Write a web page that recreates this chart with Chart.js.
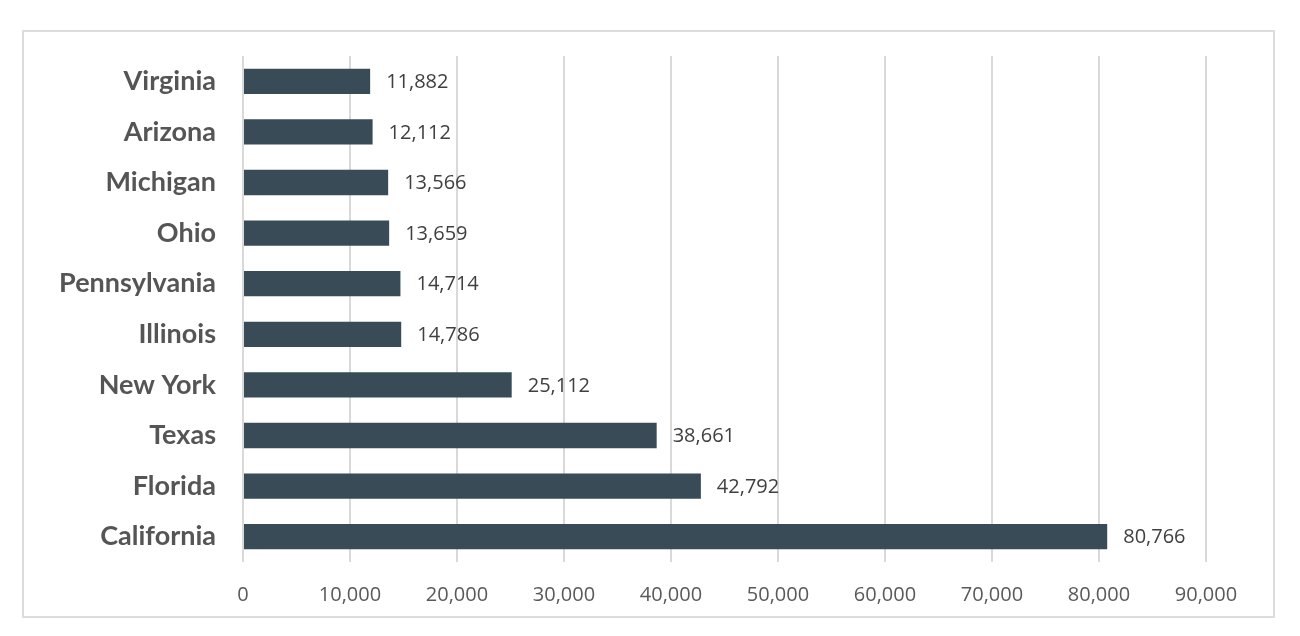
<!DOCTYPE html>
<html>
<head>
<meta charset="utf-8">
<script src="https://cdn.jsdelivr.net/npm/chart.js@4"></script>
<style>
  body { margin: 0; background: #fff; }
  #box {
    position: absolute; left: 22px; top: 30px;
    width: 1253px; height: 588px;
    border: 2px solid #dcdcdc; box-sizing: border-box;
  }
  #chart { position: absolute; left: 0; top: 0; }
</style>
</head>
<body>
<div id="box"><canvas id="chart" width="1249" height="584"></canvas></div>
<script>
const states = ["Virginia", "Arizona", "Michigan", "Ohio", "Pennsylvania", "Illinois", "New York", "Texas", "Florida", "California"];
const counts = [11882, 12112, 13566, 13659, 14714, 14786, 25112, 38661, 42792, 80766];
const xTicks = [0, 10000, 20000, 30000, 40000, 50000, 60000, 70000, 80000, 90000];

const fmt = v => v.toLocaleString("en-US");

const valueLabels = {
    id: "valueLabels",
    afterDatasetsDraw(chart) {
        const ctx = chart.ctx;
        ctx.save();
        ctx.font = "20px 'Open Sans'";
        ctx.fillStyle = "#404040";
        ctx.textAlign = "left";
        ctx.textBaseline = "middle";
        chart.getDatasetMeta(0).data.forEach((bar, i) => {
            ctx.fillText(fmt(counts[i]), bar.x + 16, bar.y + 1);
        });
        ctx.restore();
    }
};

// keep the plot area where the reference has it
const noPad = s => {
    s.paddingTop = 0; s.paddingBottom = 0;
    s.paddingLeft = 0; s.paddingRight = 0;
};

new Chart(document.getElementById("chart"), {
    type: "bar",
    data: {
        labels: states,
        datasets: [{
            data: counts,
            backgroundColor: "#384b57",
            barPercentage: 0.5,
            categoryPercentage: 1
        }]
    },
    options: {
        indexAxis: "y",
        responsive: false,
        animation: false,
        layout: { padding: { left: 0, right: 67, top: 24, bottom: 0 } },
        plugins: { legend: { display: false }, tooltip: { enabled: false } },
        scales: {
            x: {
                min: 0, max: 90000,
                afterBuildTicks: s => { s.ticks = xTicks.map(v => ({ value: v })); },
                afterFit: s => { s.height = 54; noPad(s); },
                grid: { color: "#d9d9d9", lineWidth: 2, drawTicks: false },
                border: { display: false },
                ticks: {
                    padding: 21,
                    color: "#595959",
                    font: { family: "'Open Sans'", size: 20 },
                    callback: v => fmt(v)
                }
            },
            y: {
                afterFit: s => { s.width = 219; noPad(s); },
                grid: { display: false, drawTicks: false },
                border: { display: false },
                ticks: {
                    padding: 27,
                    color: "#555555",
                    font: { family: "Lato", size: 27, weight: "bold" }
                }
            }
        }
    },
    plugins: [valueLabels]
});
</script>
</body>
</html>
